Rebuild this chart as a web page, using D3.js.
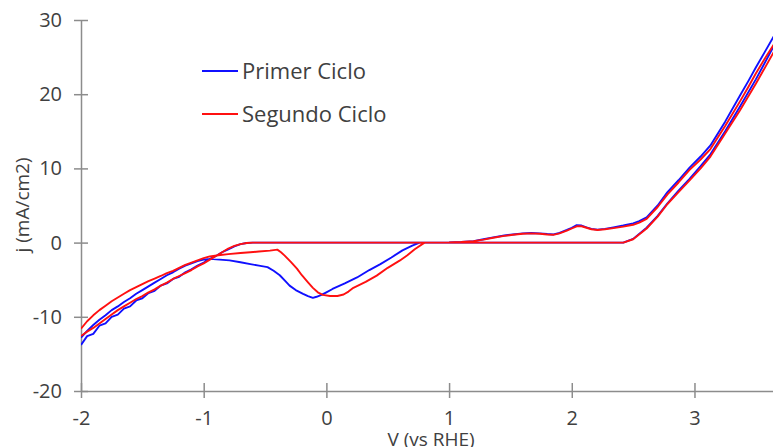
<!DOCTYPE html>
<html>
<head>
<meta charset="utf-8">
<script src="https://cdn.jsdelivr.net/npm/d3@7"></script>
<style>
  body { margin: 0; background: #fff; }
  text { font-family: "Open Sans", "DejaVu Sans", sans-serif; fill: #404040; }
</style>
</head>
<body>
<div id="chart"></div>
<script>
var svgWidth = 773;
var svgHeight = 447;
var margin = { top: 20, right: 0, bottom: 56, left: 81 };
var width = svgWidth - margin.left - margin.right;
var height = svgHeight - margin.top - margin.bottom;

// series names and tick values
var seriesNames = ["Primer Ciclo", "Segundo Ciclo"];
var xTicks = [-2, -1, 0, 1, 2, 3];
var yTicks = [-20, -10, 0, 10, 20, 30];

// Primer Ciclo, in scan order (V, j)
var blueV = [-2.00,-1.95,-1.90,-1.85,-1.80,-1.75,-1.70,-1.65,-1.60,-1.55,-1.50,-1.45,-1.40,-1.35,-1.30,-1.25,-1.20,-1.15,-1.10,-1.05,-1.00,-0.95,-0.90,-0.85,-0.80,-0.75,-0.70,-0.65,-0.60,
  2.42,2.50,2.61,2.70,2.78,2.87,2.96,3.05,3.13,3.25,3.37,3.50,3.65,
  3.65,3.57,3.50,3.44,3.37,3.25,3.13,3.05,2.96,2.87,2.78,2.70,2.61,2.55,2.50,2.42,2.34,2.27,2.21,2.16,2.12,2.08,2.04,2.00,1.96,1.90,1.85,1.80,1.74,1.67,1.60,1.52,1.45,1.36,1.28,1.20,1.10,1.00,0.90,0.76,
  0.70,0.62,0.53,0.44,0.35,0.25,0.15,0.05,0.00,-0.04,-0.08,-0.11,-0.15,-0.19,-0.25,-0.30,-0.34,-0.38,-0.43,-0.48,-0.55,-0.62,-0.70,-0.79,-0.87,-0.95,
  -1.00,-1.05,-1.10,-1.15,-1.20,-1.25,-1.30,-1.35,-1.40,-1.45,-1.50,-1.55,-1.60,-1.65,-1.70,-1.75,-1.80,-1.85,-1.90,-1.95,-2.00];
var blueJ = [-13.8,-12.6,-12.3,-11.2,-10.9,-10.0,-9.7,-8.9,-8.6,-7.8,-7.5,-6.8,-6.5,-5.8,-5.5,-4.9,-4.6,-4.0,-3.6,-3.1,-2.7,-2.2,-1.8,-1.3,-0.9,-0.5,-0.2,-0.05,0,
  0,0.5,2.0,3.6,5.3,7.0,8.6,10.3,11.9,15.0,18.3,22.0,26.6,
  27.9,25.6,23.6,21.8,19.8,16.3,13.1,11.6,10.1,8.4,6.8,5.0,3.4,2.9,2.6,2.3,2.05,1.85,1.75,1.85,2.05,2.3,2.35,2.0,1.7,1.3,1.1,1.15,1.25,1.3,1.25,1.1,0.95,0.7,0.45,0.2,0.08,0.02,0,0,
  -0.4,-1.05,-2.0,-2.9,-3.7,-4.7,-5.5,-6.25,-6.7,-7.05,-7.3,-7.45,-7.2,-6.9,-6.4,-5.8,-5.1,-4.4,-3.8,-3.3,-3.1,-2.9,-2.65,-2.4,-2.3,-2.2,
  -2.3,-2.5,-2.8,-3.1,-3.5,-4.0,-4.4,-4.9,-5.4,-5.9,-6.4,-6.9,-7.5,-8.0,-8.6,-9.1,-9.8,-10.4,-11.1,-11.9,-12.8];

// Segundo Ciclo, in scan order (V, j)
var redV = [-2.00,-1.95,-1.90,-1.85,-1.80,-1.75,-1.70,-1.65,-1.60,-1.55,-1.50,-1.45,-1.40,-1.35,-1.30,-1.25,-1.20,-1.15,-1.10,-1.05,-1.00,-0.95,-0.90,-0.85,-0.80,-0.75,-0.70,-0.65,-0.60,
  2.42,2.50,2.61,2.70,2.78,2.87,2.96,3.05,3.13,3.25,3.37,3.50,3.65,
  3.65,3.57,3.50,3.44,3.37,3.25,3.13,3.05,2.96,2.87,2.78,2.70,2.61,2.55,2.50,2.42,2.34,2.27,2.21,2.16,2.12,2.08,2.04,2.00,1.96,1.90,1.85,1.80,1.74,1.67,1.60,1.52,1.45,1.36,1.28,1.20,1.10,1.00,0.90,0.80,
  0.72,0.66,0.60,0.50,0.41,0.32,0.22,0.18,0.14,0.09,0.03,-0.03,-0.07,-0.11,-0.15,-0.20,-0.24,-0.29,-0.34,-0.37,-0.40,-0.46,-0.55,-0.62,-0.70,-0.80,-0.88,-0.95,
  -1.00,-1.05,-1.10,-1.15,-1.20,-1.25,-1.30,-1.35,-1.40,-1.45,-1.50,-1.55,-1.60,-1.65,-1.70,-1.75,-1.80,-1.85,-1.90,-1.95,-2.00];
var redJ = [-12.6,-12.0,-11.5,-10.9,-10.3,-9.7,-9.1,-8.6,-8.1,-7.6,-7.2,-6.7,-6.3,-5.8,-5.4,-4.9,-4.5,-4.1,-3.7,-3.2,-2.8,-2.3,-1.8,-1.3,-0.8,-0.45,-0.2,-0.05,0,
  0,0.45,1.9,3.5,5.2,6.8,8.4,10.0,11.6,14.7,17.8,21.4,25.8,
  26.8,24.7,22.8,21.0,19.0,15.7,12.6,11.2,9.8,8.1,6.5,4.8,3.2,2.7,2.4,2.15,1.95,1.8,1.7,1.8,2.0,2.2,2.2,1.9,1.6,1.25,1.05,1.1,1.2,1.25,1.2,1.05,0.9,0.65,0.4,0.2,0.08,0.02,0,0,
  -0.9,-1.7,-2.4,-3.4,-4.45,-5.3,-6.1,-6.6,-7.0,-7.2,-7.2,-7.05,-6.7,-6.1,-5.35,-4.4,-3.5,-2.6,-1.75,-1.3,-0.95,-1.08,-1.2,-1.3,-1.4,-1.55,-1.7,-1.85,
  -2.1,-2.4,-2.7,-3.0,-3.4,-3.8,-4.1,-4.5,-4.85,-5.2,-5.6,-6.0,-6.4,-6.9,-7.4,-7.9,-8.5,-9.1,-9.8,-10.6,-11.6];

var series = [
  { name: seriesNames[0], color: "#1010ff", points: d3.zip(blueV, blueJ) },
  { name: seriesNames[1], color: "#ff1010", points: d3.zip(redV, redJ) }
];

var svg = d3.select("#chart")
  .append("svg")
  .attr("width", svgWidth)
  .attr("height", svgHeight);
var chartGroup = svg.append("g")
  .attr("transform", `translate(${margin.left}, ${margin.top})`);

var xScale = d3.scaleLinear().domain([-2, 3.64]).range([0, width]);
var yScale = d3.scaleLinear().domain([-20, 30]).range([height, 0]);

// plain hyphen labels, like the original
var plain = d => String(d);

// axes: ticks cross the axis line like in the original
var xAxis = chartGroup.append("g")
  .attr("transform", `translate(0, ${height})`)
  .call(d3.axisBottom(xScale).tickValues(xTicks).tickFormat(plain).tickSizeInner(7).tickSizeOuter(0).tickPadding(13));
xAxis.selectAll(".tick line").attr("y1", -8);

var yAxis = chartGroup.append("g")
  .call(d3.axisLeft(yScale).tickValues(yTicks).tickFormat(plain).tickSizeInner(7).tickSizeOuter(0).tickPadding(12));
yAxis.selectAll(".tick line").attr("x1", 7);

chartGroup.selectAll(".domain, .tick line")
  .attr("stroke", "#8c8c8c")
  .attr("stroke-width", 1.5);
chartGroup.selectAll(".tick text")
  .attr("font-size", "20px")
  .attr("fill", "#404040");

chartGroup.append("clipPath").attr("id", "clip")
  .append("rect").attr("x", 0).attr("y", -margin.top).attr("width", width).attr("height", height + margin.top);

var line = d3.line()
  .x(d => xScale(d[0]))
  .y(d => yScale(d[1]));

chartGroup.append("g")
  .attr("clip-path", "url(#clip)")
  .selectAll("path")
  .data(series)
  .enter()
  .append("path")
  .attr("d", d => line(d.points))
  .attr("fill", "none")
  .attr("stroke", d => d.color)
  .attr("stroke-width", 1.9)
  .attr("stroke-linejoin", "round");

// legend
var legend = svg.append("g").attr("transform", "translate(202, 71)");
var items = legend.selectAll("g")
  .data(series)
  .enter()
  .append("g")
  .attr("transform", (d, i) => `translate(0, ${i * 43})`);
items.append("line")
  .attr("x1", 0).attr("x2", 36)
  .attr("stroke", d => d.color)
  .attr("stroke-width", 1.8);
items.append("text")
  .attr("x", 40)
  .attr("dy", "0.36em")
  .attr("font-size", "22px")
  .text(d => d.name);

// axis titles
svg.append("text")
  .attr("x", 431)
  .attr("y", 446)
  .attr("text-anchor", "middle")
  .attr("font-size", "19px")
  .text("V (vs RHE)");
svg.append("text")
  .attr("transform", "translate(29, 205) rotate(-90)")
  .attr("text-anchor", "middle")
  .attr("font-size", "19px")
  .text("j (mA/cm2)");
</script>
</body>
</html>
